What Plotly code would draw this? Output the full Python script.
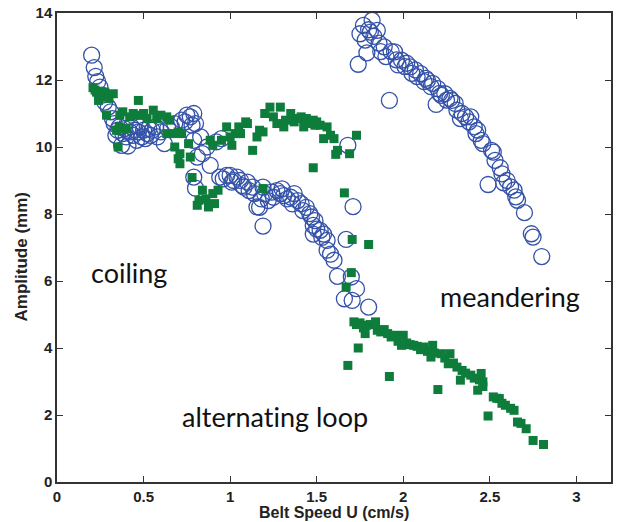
import plotly.graph_objects as go

# Belt speed U (cm/s) and amplitude (mm), measured points per regime
circle_coiling = [
    (0.20, 12.74), (0.215, 12.37), (0.224, 12.11), (0.235, 11.95), (0.248, 11.79),
    (0.26, 11.55), (0.276, 11.34), (0.296, 11.19), (0.31, 11.05), (0.32, 10.85),
    (0.33, 10.7), (0.34, 10.35), (0.35, 10.5), (0.36, 10.6), (0.373, 10.05),
    (0.38, 10.4), (0.39, 10.55), (0.40, 10.3), (0.41, 10.03), (0.42, 10.45),
    (0.43, 10.6), (0.44, 10.35), (0.45, 10.5), (0.46, 10.2), (0.47, 10.45),
    (0.48, 10.6), (0.49, 10.3), (0.50, 10.5), (0.51, 10.25), (0.52, 10.4),
    (0.53, 10.55), (0.54, 10.35), (0.55, 10.5), (0.57, 10.6), (0.58, 10.3),
    (0.60, 10.45), (0.62, 10.1), (0.64, 10.55), (0.66, 10.6), (0.68, 10.7),
    (0.72, 10.8), (0.74, 10.75), (0.75, 10.95), (0.77, 10.9), (0.78, 10.65),
    (0.79, 11.0), (0.80, 10.7), (0.79, 10.2), (0.83, 10.3), (0.81, 9.70),
    (0.84, 9.80), (0.866, 10.0), (0.885, 9.45), (0.79, 9.10), (0.80, 8.77),
    (0.92, 10.15), (0.95, 10.25),
]
circle_loop = [
    (0.94, 9.10), (0.96, 9.05), (0.98, 9.15), (1.00, 9.15), (1.01, 8.95),
    (1.02, 9.0), (1.04, 9.1), (1.06, 9.0), (1.07, 8.85), (1.08, 8.8),
    (1.10, 8.95), (1.11, 8.7), (1.13, 8.80), (1.14, 8.61), (1.155, 8.21),
    (1.17, 8.2), (1.18, 8.45), (1.19, 8.8), (1.19, 7.64), (1.20, 8.6),
    (1.22, 8.4), (1.24, 8.65), (1.25, 8.5), (1.27, 8.7), (1.29, 8.61),
    (1.30, 8.75), (1.31, 8.55), (1.33, 8.45), (1.35, 8.5), (1.36, 8.3),
    (1.37, 8.61), (1.39, 8.4), (1.41, 8.31), (1.42, 8.1), (1.44, 8.2),
    (1.46, 8.01), (1.47, 7.91), (1.48, 7.66), (1.48, 7.4), (1.49, 7.8),
    (1.50, 7.55), (1.52, 7.51), (1.53, 7.3), (1.54, 7.4), (1.56, 7.21),
    (1.56, 6.92), (1.58, 6.8), (1.60, 6.62), (1.62, 6.14), (1.67, 7.24),
    (1.68, 10.05), (1.70, 6.12), (1.71, 8.22), (1.73, 5.77), (1.66, 5.47),
    (1.705, 5.42), (1.80, 5.22),
]
circle_meander = [
    (1.74, 12.47), (1.75, 13.38), (1.77, 13.63), (1.78, 13.19), (1.79, 12.81),
    (1.80, 13.5), (1.81, 13.43), (1.82, 13.78), (1.83, 13.3), (1.85, 13.48),
    (1.86, 13.1), (1.87, 12.85), (1.89, 12.99), (1.90, 12.7), (1.92, 11.39),
    (1.93, 12.85), (1.95, 12.84), (1.96, 12.6), (1.97, 12.45), (1.99, 12.59),
    (2.01, 12.4), (2.02, 12.5), (2.04, 12.39), (2.05, 12.2), (2.07, 12.3),
    (2.08, 12.1), (2.10, 12.19), (2.12, 11.95), (2.13, 12.05), (2.14, 11.99),
    (2.16, 11.8), (2.17, 11.9), (2.19, 11.27), (2.20, 11.74), (2.21, 11.6),
    (2.22, 11.54), (2.24, 11.59), (2.25, 11.4), (2.27, 11.45), (2.28, 11.39),
    (2.30, 11.30), (2.31, 11.1), (2.33, 10.85), (2.34, 11.0), (2.36, 10.9),
    (2.38, 10.75), (2.39, 10.9), (2.41, 10.60), (2.42, 10.4), (2.43, 10.50),
    (2.45, 10.20), (2.46, 10.1), (2.49, 8.88), (2.51, 9.90), (2.52, 9.85),
    (2.53, 9.60), (2.56, 9.38), (2.57, 9.2), (2.58, 8.93), (2.60, 9.0),
    (2.62, 8.81), (2.64, 8.71), (2.65, 8.51), (2.66, 8.41), (2.70, 8.04),
    (2.74, 7.41), (2.75, 7.31), (2.80, 6.73),
]
square_coiling = [
    (0.208, 11.77), (0.22, 11.7), (0.228, 11.64), (0.247, 11.54), (0.24, 11.39),
    (0.26, 11.5), (0.276, 11.64), (0.30, 11.45), (0.325, 11.59), (0.286, 10.95),
    (0.47, 11.39), (0.353, 10.0), (0.344, 10.50), (0.36, 10.6), (0.40, 10.55),
    (0.363, 10.95), (0.38, 11.05), (0.42, 10.9), (0.44, 11.0), (0.47, 10.95),
    (0.50, 11.0), (0.52, 10.85), (0.556, 11.1), (0.576, 10.85), (0.60, 10.95),
    (0.634, 10.9), (0.65, 10.8), (0.634, 10.40), (0.67, 10.40), (0.72, 10.40),
    (0.70, 10.45), (0.68, 10.0), (0.71, 9.80), (0.70, 9.65), (0.76, 10.10),
    (0.77, 9.70), (0.71, 9.50), (0.78, 9.09), (0.84, 8.71), (0.82, 8.41),
    (0.81, 8.26), (0.875, 8.21), (0.91, 8.31), (0.93, 8.71), (0.90, 8.61),
    (0.86, 8.45),
]
square_middle = [
    (0.885, 10.20), (0.90, 10.05), (0.95, 10.20), (0.98, 10.60), (1.00, 10.30),
    (1.01, 10.05), (1.03, 10.4), (1.05, 10.60), (1.06, 10.40), (1.09, 10.75),
    (1.10, 10.70), (1.13, 9.90), (1.155, 10.30), (1.17, 10.5), (1.19, 10.45),
    (1.19, 8.76), (1.20, 11.0), (1.23, 11.19), (1.25, 10.9), (1.27, 10.70),
    (1.29, 11.19), (1.31, 10.60), (1.32, 10.8), (1.35, 11.0), (1.37, 10.75),
    (1.39, 10.85), (1.41, 10.9), (1.425, 10.60), (1.44, 10.85), (1.46, 10.7),
    (1.48, 10.80), (1.49, 10.65), (1.48, 9.38), (1.50, 10.75), (1.52, 10.65),
    (1.54, 10.25), (1.56, 10.60), (1.58, 10.35), (1.60, 10.25), (1.62, 9.90),
    (1.61, 9.78), (1.69, 9.80), (1.73, 10.35), (1.66, 8.63), (1.705, 7.24),
    (1.80, 7.09), (1.70, 6.25), (1.67, 5.82), (1.68, 3.48), (1.74, 4.0),
]
square_loop = [
    (1.715, 4.78), (1.73, 4.7), (1.75, 4.75), (1.77, 4.6), (1.79, 4.68),
    (1.78, 4.43), (1.81, 4.7), (1.84, 4.78), (1.85, 4.53), (1.87, 4.48),
    (1.89, 4.55), (1.91, 4.43), (1.93, 4.33), (1.92, 3.15), (1.95, 4.38),
    (1.97, 4.2), (1.99, 4.08), (2.00, 4.38), (2.02, 4.15), (2.04, 4.1),
    (2.06, 4.08), (2.08, 4.05), (2.10, 3.95), (2.12, 4.03), (2.14, 3.9),
    (2.16, 3.73), (2.17, 4.08), (2.18, 3.85), (2.20, 2.76), (2.22, 3.83),
    (2.24, 3.7), (2.26, 3.53), (2.27, 3.83), (2.29, 3.55), (2.31, 3.43),
    (2.33, 3.04), (2.34, 3.33), (2.36, 3.25), (2.39, 3.19), (2.41, 3.1),
    (2.43, 2.74), (2.44, 3.05), (2.45, 3.24), (2.46, 2.99), (2.46, 2.85),
    (2.49, 1.97), (2.52, 2.54), (2.54, 2.5), (2.555, 2.49), (2.57, 2.35),
    (2.59, 2.29), (2.62, 2.2), (2.64, 2.14), (2.66, 1.79), (2.68, 1.75),
    (2.71, 1.59), (2.75, 1.24), (2.81, 1.12),
]

x_ticks = [0, 0.5, 1, 1.5, 2, 2.5, 3]
x_tick_labels = ["0", "0.5", "1", "1.5", "2", "2.5", "3"]
y_ticks = [0, 2, 4, 6, 8, 10, 12, 14]
x_title = "Belt Speed U (cm/s)"
y_title = "Amplitude (mm)"

# Regime names; the zero-width non-joiner keeps "ti" from forming a ligature
regime_labels = [
    ("coiling", 0.415, 6.26),
    ("meandering", 2.617, 5.54),
    ("alternat\u200cing loop", 1.26, 1.96),
]

circles = circle_coiling + circle_loop + circle_meander
squares = square_coiling + square_middle + square_loop

fig = go.Figure()
fig.add_trace(go.Scatter(
    x=[p[0] for p in circles], y=[p[1] for p in circles],
    mode="markers",
    marker=dict(symbol="circle-open", size=16, color="rgb(52,82,168)",
                line=dict(width=1.3, color="rgb(52,82,168)")),
    showlegend=False, hoverinfo="x+y",
))
fig.add_trace(go.Scatter(
    x=[p[0] for p in squares], y=[p[1] for p in squares],
    mode="markers",
    marker=dict(symbol="square", size=9, color="rgb(14,125,59)", line=dict(width=0)),
    showlegend=False, hoverinfo="x+y",
))

for text, xv, yv in regime_labels:
    fig.add_annotation(x=xv, y=yv, text=text, showarrow=False,
                       font=dict(family="Lato", size=27, color="#111"),
                       xanchor="center", yanchor="middle")

axis_font = dict(family="Liberation Sans", size=15, color="#222", weight="bold")

# Axis titles placed just outside the plotting box
fig.add_annotation(text=x_title, xref="paper", yref="paper", x=0.5, y=-0.066,
                   showarrow=False, xanchor="center", yanchor="middle",
                   font=dict(family="Liberation Sans", size=16, color="#222", weight="bold"))
fig.add_annotation(text=y_title, xref="paper", yref="paper", x=-0.064, y=0.48,
                   textangle=-90, showarrow=False, xanchor="center", yanchor="middle",
                   font=dict(family="Liberation Sans", size=17, color="#222", weight="bold"))

fig.update_xaxes(
    range=[0, 3.2], tickvals=x_ticks, ticktext=x_tick_labels,
    ticks="inside", ticklen=6, tickwidth=1, tickcolor="#333",
    showline=True, linecolor="#333", linewidth=1.5, mirror="ticks",
    showgrid=False, zeroline=False, tickfont=axis_font, automargin=False,
)
fig.update_yaxes(
    range=[0, 14], tickvals=y_ticks,
    ticks="inside", ticklen=6, tickwidth=1, tickcolor="#333",
    showline=True, linecolor="#333", linewidth=1.5, mirror="ticks",
    showgrid=False, zeroline=False, tickfont=axis_font, automargin=False,
)
fig.update_layout(
    width=627, height=522,
    margin=dict(l=57, r=16, t=13, b=40),
    plot_bgcolor="white", paper_bgcolor="white",
)

fig.write_html("out.html")
